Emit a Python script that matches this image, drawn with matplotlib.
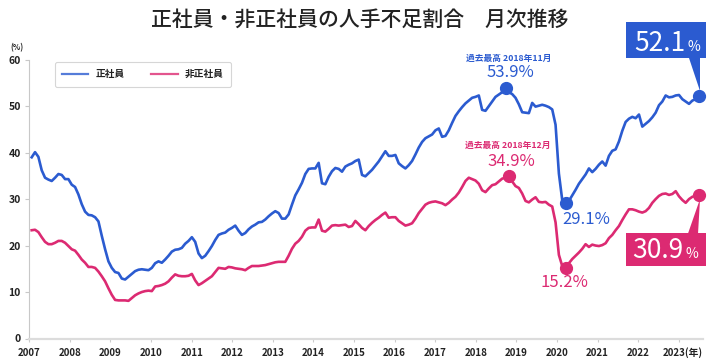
import numpy as np
import matplotlib
matplotlib.use('Agg')
import matplotlib.pyplot as plt
import matplotlib.transforms as mtransforms
from matplotlib.patches import Rectangle, Polygon
from matplotlib.lines import Line2D

plt.rcParams['font.family'] = ['Noto Sans CJK JP', 'DejaVu Sans']

title = '正社員・非正社員の人手不足割合　月次推移'
series_names = ['正社員', '非正社員']
year_labels = ['2007', '2008', '2009', '2010', '2011', '2012', '2013', '2014',
               '2015', '2016', '2017', '2018', '2019', '2020', '2021', '2022',
               '2023(年)']
peak_labels = ['過去最高 2018年11月', '過去最高 2018年12月']

# monthly values, Jan 2007 .. Sep 2023
regular = [
    39.0, 40.1, 39.1, 36.2, 34.6, 34.2, 33.9, 34.6, 35.4, 35.2, 34.3, 34.3,  # 2007
    33.1, 32.6, 31.0, 28.9, 27.3, 26.6, 26.5, 26.1, 25.2, 22.1, 19.2, 16.6,  # 2008
    15.2, 14.3, 14.1, 12.9, 12.7, 13.3, 13.9, 14.5, 14.8, 14.9, 14.8, 14.7,  # 2009
    15.2, 16.2, 16.6, 16.3, 17.0, 17.8, 18.7, 19.1, 19.2, 19.5, 20.4, 21.0,  # 2010
    21.8, 20.8, 18.3, 17.3, 17.8, 18.8, 19.9, 21.2, 22.3, 22.6, 22.8, 23.4,  # 2011
    23.8, 24.3, 23.2, 22.3, 22.7, 23.5, 24.1, 24.5, 25.0, 25.1, 25.6, 26.3,  # 2012
    26.9, 27.4, 27.0, 25.8, 25.8, 26.7, 28.8, 30.8, 32.1, 33.5, 35.4, 36.5,  # 2013
    36.6, 36.6, 37.8, 33.4, 33.2, 34.8, 36.0, 36.7, 36.5, 35.9, 37.0, 37.4,  # 2014
    37.7, 38.2, 38.5, 35.2, 34.9, 35.6, 36.3, 37.2, 38.1, 39.2, 40.3, 39.3,  # 2015
    39.3, 39.5, 37.7, 37.1, 36.6, 37.3, 38.2, 39.6, 41.1, 42.3, 43.1, 43.5,  # 2016
    43.9, 44.8, 45.2, 43.4, 43.6, 44.8, 46.4, 47.9, 48.9, 49.8, 50.6, 51.2,  # 2017
    51.8, 52.0, 52.3, 49.2, 49.0, 50.0, 51.0, 52.0, 52.5, 53.0, 53.9, 53.0,  # 2018
    52.6, 51.8, 50.4, 48.7, 48.6, 48.5, 50.7, 49.9, 50.1, 50.3, 50.1, 49.8,  # 2019
    49.3, 46.0, 35.5, 29.8, 29.1, 29.6, 30.8, 32.0, 33.3, 34.3, 35.3, 36.6,  # 2020
    35.8, 36.5, 37.4, 38.1, 37.2, 39.3, 40.4, 40.7, 42.4, 44.7, 46.6, 47.3,  # 2021
    47.7, 47.4, 48.2, 45.6, 46.2, 46.8, 47.6, 48.6, 50.2, 51.0, 52.3, 51.9,  # 2022
    52.0, 52.3, 52.4, 51.5, 51.0, 50.5, 51.2, 51.5, 52.1,                    # 2023
]
nonregular = [
    23.3, 23.4, 22.9, 21.8, 20.8, 20.3, 20.3, 20.6, 21.0, 21.0, 20.6, 19.9,  # 2007
    19.2, 18.9, 18.0, 17.0, 16.3, 15.4, 15.4, 15.2, 14.4, 13.4, 12.3, 10.8,  # 2008
    9.4, 8.3, 8.2, 8.2, 8.2, 8.1, 8.7, 9.3, 9.7, 10.0, 10.2, 10.3,           # 2009
    10.2, 11.2, 11.3, 11.5, 11.8, 12.3, 13.1, 13.8, 13.5, 13.4, 13.4, 13.5,  # 2010
    13.9, 12.5, 11.5, 11.9, 12.4, 12.9, 13.4, 14.3, 15.2, 15.1, 15.0, 15.4,  # 2011
    15.3, 15.1, 15.0, 14.9, 14.7, 15.2, 15.6, 15.6, 15.6, 15.7, 15.8, 16.0,  # 2012
    16.2, 16.4, 16.5, 16.5, 16.5, 17.8, 19.3, 20.4, 21.0, 21.9, 23.2, 23.8,  # 2013
    23.9, 23.9, 25.6, 23.2, 23.0, 23.6, 24.3, 24.4, 24.3, 24.4, 24.5, 24.0,  # 2014
    24.2, 25.3, 24.6, 23.8, 23.3, 24.2, 24.9, 25.5, 26.0, 26.6, 27.1, 26.0,  # 2015
    26.1, 26.1, 25.3, 24.8, 24.3, 24.5, 24.8, 25.8, 27.0, 27.9, 28.8, 29.2,  # 2016
    29.4, 29.5, 29.3, 29.1, 28.7, 29.2, 29.9, 30.5, 31.4, 32.6, 33.9, 34.6,  # 2017
    34.3, 34.0, 33.3, 31.9, 31.5, 32.3, 33.0, 33.2, 33.8, 34.4, 34.6, 34.9,  # 2018
    33.8, 32.8, 32.4, 31.2, 29.6, 29.3, 29.9, 30.4, 29.4, 29.3, 29.4, 28.8,  # 2019
    28.4, 25.0, 18.0, 15.6, 15.2, 16.2, 17.1, 17.8, 18.5, 19.3, 20.3, 19.7,  # 2020
    20.2, 20.0, 19.9, 20.1, 20.5, 21.6, 22.3, 23.3, 24.2, 25.5, 26.7, 27.8,  # 2021
    27.8, 27.6, 27.3, 27.1, 27.4, 28.1, 29.2, 30.0, 30.7, 31.1, 31.2, 30.9,  # 2022
    31.1, 31.7, 30.6, 29.8, 29.2, 30.0, 30.5, 30.7, 30.9,                    # 2023
]

BLUE = '#2b5bd0'
PINK = '#dc2a72'

W, H = 720, 363
fig = plt.figure(figsize=(W / 100, H / 100), dpi=100)
ax_left, ax_right, ax_bot, ax_top = 29.3, 702.7, 338.5, 59.7
ax = fig.add_axes([ax_left / W, 1 - ax_bot / H, (ax_right - ax_left) / W, (ax_bot - ax_top) / H])

months = np.arange(len(regular))
reg = np.array(regular)
non = np.array(nonregular)

ax.plot(months, reg, color=BLUE, lw=1.9, solid_joinstyle='round', zorder=3)
ax.plot(months, non, color=PINK, lw=1.9, solid_joinstyle='round', zorder=3)

ax.set_xlim(-0.72, 201.1)
ax.set_ylim(0, 60)

ax.set_xticks(np.linspace(-0.72, 193.9, len(year_labels)))
ax.set_xticklabels(year_labels)
ax.set_yticks(range(0, 61, 10))
ax.tick_params(axis='x', length=2.5, width=0.8, color='#cccccc', pad=4.0,
               labelsize=7, labelcolor='#222222')
ax.tick_params(axis='y', length=3, width=0.8, color='#c8c8c8', pad=3,
               labelsize=7.5, labelcolor='#222222')
for lab in ax.get_xticklabels() + ax.get_yticklabels():
    lab.set_fontweight('bold')
last_lab = ax.get_xticklabels()[-1]
last_lab.set_transform(last_lab.get_transform() +
                       mtransforms.ScaledTranslation(4 / 100, 0, fig.dpi_scale_trans))

for s in ['top', 'right']:
    ax.spines[s].set_visible(False)
ax.spines['left'].set_color('#c8c8c8')
ax.spines['left'].set_linewidth(0.8)
ax.spines['bottom'].set_color('#dcdcdc')
ax.spines['bottom'].set_linewidth(1.6)

fig.text(0.5, 1 - 20 / H, title, ha='center', va='center', fontsize=15,
         color='#222222', fontweight='medium')
fig.text(17 / W, 1 - 48 / H, '(%)', ha='center', va='center', fontsize=5.5,
         color='#222222', fontweight='bold')

handles = [Line2D([], [], color=BLUE, lw=1.6, alpha=0.8),
           Line2D([], [], color=PINK, lw=1.6, alpha=0.8)]
leg = ax.legend(handles, series_names, loc='upper left',
                bbox_to_anchor=(0.038, 0.992, 0.261, 0.0), mode='expand', ncol=2,
                fontsize=7, handlelength=2.7, handletextpad=0.7, columnspacing=2.2,
                borderpad=0.75, borderaxespad=0, frameon=True, fancybox=True)
leg.get_frame().set_edgecolor('#cccccc')
leg.get_frame().set_linewidth(0.8)
for t in leg.get_texts():
    t.set_fontweight('bold')
    t.set_color('#222222')


def px_trans(x, y):
    return mtransforms.Affine2D().scale(1, -1) + mtransforms.ScaledTranslation(x, y, ax.transData)


# key points
i_reg_peak = int(np.argmax(reg))
i_non_peak = int(np.argmax(non))
i_reg_low = 150 + int(np.argmin(reg[150:]))
i_non_low = 150 + int(np.argmin(non[150:]))
i_last = len(reg) - 1

for idx, arr, col in [(i_reg_peak, reg, BLUE), (i_non_peak, non, PINK),
                      (i_reg_low, reg, BLUE), (i_non_low, non, PINK),
                      (i_last, reg, BLUE), (i_last, non, PINK)]:
    ax.plot([idx], [arr[idx]], 'o', color=col, ms=8.5, zorder=5, clip_on=False)

# peak labels
t = px_trans(i_reg_peak, reg[i_reg_peak])
ax.text(3.3, -29.8, peak_labels[0], transform=t, ha='center', va='center',
        fontsize=6.3, color=BLUE, fontweight='bold')
ax.text(4.6, -15.3, f'{reg[i_reg_peak]:.1f}%', transform=t, ha='center', va='center',
        fontsize=12, color=BLUE)
t = px_trans(i_non_peak, non[i_non_peak])
ax.text(-1.4, -30.8, peak_labels[1], transform=t, ha='center', va='center',
        fontsize=6.3, color=PINK, fontweight='bold')
ax.text(3.0, -15.0, f'{non[i_non_peak]:.1f}%', transform=t, ha='center', va='center',
        fontsize=12, color=PINK)

# 2020 lows
t = px_trans(i_reg_low, reg[i_reg_low])
ax.text(-3.5, 16, f'{reg[i_reg_low]:.1f}%', transform=t, ha='left', va='center',
        fontsize=12, color=BLUE)
t = px_trans(i_non_low, non[i_non_low])
ax.text(-1, 15, f'{non[i_non_low]:.1f}%', transform=t, ha='center', va='center',
        fontsize=12, color=PINK)

# latest value callouts
t = px_trans(i_last, reg[i_last])
ax.add_patch(Rectangle((-73, -74), 80, 36, transform=t, color=BLUE, lw=0, clip_on=False, zorder=6))
ax.add_patch(Polygon([(-10, -38.5), (1, -38.5), (1, -5)], closed=True, transform=t,
                     color=BLUE, lw=0, clip_on=False, zorder=6))
ax.text(-14, -45.5, f'{reg[i_last]:.1f}', transform=t, ha='right', va='baseline',
        fontsize=19, color='white', zorder=7)
ax.text(-12, -45.5, '%', transform=t, ha='left', va='baseline',
        fontsize=10, color='white', zorder=7)

t = px_trans(i_last, non[i_last])
ax.add_patch(Rectangle((-73, 38), 80, 33.5, transform=t, color=PINK, lw=0, clip_on=False, zorder=6))
ax.add_patch(Polygon([(-11, 38.5), (-1, 38.5), (1, 4)], closed=True, transform=t,
                     color=PINK, lw=0, clip_on=False, zorder=6))
ax.text(-16, 63, f'{non[i_last]:.1f}', transform=t, ha='right', va='baseline',
        fontsize=19, color='white', zorder=7)
ax.text(-14, 63, '%', transform=t, ha='left', va='baseline',
        fontsize=10, color='white', zorder=7)

fig.savefig('out.png', dpi=100)
